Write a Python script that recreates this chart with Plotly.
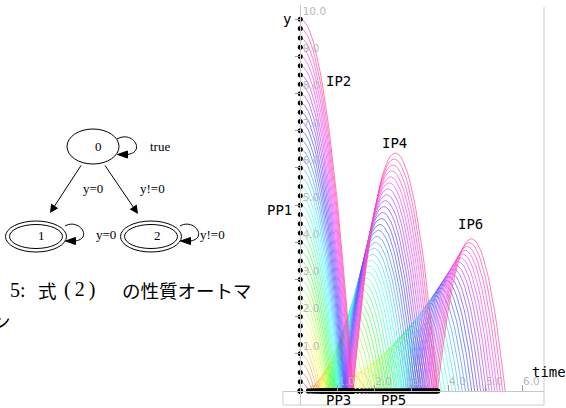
import numpy as np
import plotly.graph_objects as go

W, H = 566, 408

# ---------------- data ----------------
initial_heights = [0.0, 0.25, 0.5, 0.75, 1.0, 1.25, 1.5, 1.75, 2.0, 2.25,
                   2.5, 2.75, 3.0, 3.25, 3.5, 3.75, 4.0, 4.25, 4.5, 4.75,
                   5.0, 5.25, 5.5, 5.75, 6.0, 6.25, 6.5, 6.75, 7.0, 7.25,
                   7.5, 7.75, 8.0, 8.25, 8.5, 8.75, 9.0, 9.25, 9.5, 9.75, 10.0]
gravity = 9.8          # m/s^2
restitution = 0.8      # bounce coefficient
n_bounces = 2
x_ticks = [0, 1, 2, 3, 4, 5, 6]
y_ticks = [0, 1, 2, 3, 4, 5, 6, 7, 8, 9, 10]
phase_labels = ["PP1", "IP2", "PP3", "IP4", "PP5", "IP6"]
node_labels = ["0", "1", "2"]
edge_labels = ["true", "y=0", "y!=0", "y=0", "y!=0"]


def px(x):
    return x / W


def py(y):
    return (H - y) / H


def trajectory(h0):
    v0 = (2 * gravity * h0) ** 0.5
    T = v0 / gravity
    s = np.linspace(0, T, 30)
    ts = list(s)
    ys = list(h0 - 0.5 * gravity * s ** 2)
    start, v = T, v0
    for _ in range(n_bounces):
        v *= restitution
        dur = 2 * v / gravity
        s = np.linspace(0, dur, 40)
        ts += list(start + s)
        ys += list(v * s - 0.5 * gravity * s ** 2)
        start += dur
    return ts, ys


fig = go.Figure()

for h0 in initial_heights:
    if h0 <= 0:
        continue
    ts, ys = trajectory(h0)
    hue = 33.5 * h0
    fig.add_trace(go.Scatter(x=ts, y=ys, mode="lines",
                             line=dict(color=f"hsla({hue:.0f},100%,64%,0.7)", width=1),
                             hoverinfo="skip", cliponaxis=False))

first_land = [(2 * h / gravity) ** 0.5 for h in initial_heights]
second_land = [t * (1 + 2 * restitution) for t in first_land]

mk = dict(color="black", size=5)
fig.add_trace(go.Scatter(x=[0] * len(initial_heights), y=initial_heights, mode="markers",
                         marker=mk, cliponaxis=False, hoverinfo="skip"))
fig.add_trace(go.Scatter(x=first_land, y=[0] * len(first_land), mode="markers",
                         marker=dict(color="black", size=5.5), cliponaxis=False,
                         hoverinfo="skip"))
fig.add_trace(go.Scatter(x=second_land, y=[0] * len(second_land), mode="markers",
                         marker=dict(color="black", size=5.5), cliponaxis=False,
                         hoverinfo="skip"))

tickfont = dict(family="DejaVu Sans", size=10.5, color="#b8b8b8")
fig.update_layout(
    width=W, height=H, margin=dict(l=0, r=0, t=0, b=0),
    paper_bgcolor="white", plot_bgcolor="white", showlegend=False,
    xaxis=dict(domain=[283 / W, 544 / W], range=[-0.468, 6.595], anchor="free",
               position=17 / H, showline=True, linecolor="#c8c8c8", linewidth=1,
               ticks="inside", ticklen=6, tickcolor="#999999",
               tickvals=x_ticks, ticktext=[f"{v:.1f}" for v in x_ticks],
               ticklabelposition="inside right", tickfont=tickfont,
               showgrid=False, zeroline=False),
    yaxis=dict(domain=[3 / H, 403 / H], range=[-0.377, 10.385], anchor="free",
               position=300.3 / W, showline=True, linecolor="#c8c8c8", linewidth=1,
               ticks="outside", ticklen=5, tickcolor="#999999",
               tickvals=y_ticks, ticktext=[f"{v:.1f}" for v in y_ticks],
               ticklabelposition="inside top", tickfont=tickfont,
               showgrid=False, zeroline=False),
)

shapes = []
frame = dict(color="#cccccc", width=1)
shapes.append(dict(type="line", xref="paper", yref="paper", x0=px(283), x1=px(544),
                   y0=py(405), y1=py(405), line=frame))
shapes.append(dict(type="line", xref="paper", yref="paper", x0=px(544), x1=px(544),
                   y0=py(7), y1=py(405), line=frame))
shapes.append(dict(type="line", xref="paper", yref="paper", x0=px(283), x1=px(283),
                   y0=py(391), y1=py(405), line=frame))

annotations = []
mono = dict(family="DejaVu Sans Mono", size=14, color="black")
chart_texts = [("y", 287, 19), ("time", 549, 372), ("PP1", 279, 210),
               ("IP2", 338, 81), ("PP3", 338, 400), ("IP4", 394, 143),
               ("PP5", 393, 400), ("IP6", 470, 224)]
for t, x, y in chart_texts:
    annotations.append(dict(text=t, x=px(x), y=py(y), xref="paper", yref="paper",
                            showarrow=False, font=mono, xanchor="center", yanchor="middle"))

# ---------------- automaton diagram ----------------
blk = dict(color="black", width=1)


def ellipse(cx, cy, rx, ry):
    shapes.append(dict(type="circle", xref="paper", yref="paper",
                       x0=px(cx - rx), x1=px(cx + rx), y0=py(cy + ry), y1=py(cy - ry),
                       line=blk))


ellipse(93, 146.5, 26, 17.5)
for cx in (36, 151):
    ellipse(cx, 236.5, 30.5, 15.5)
    ellipse(cx, 236.5, 26.5, 12)


def loop(sx, sy, c1, c2, ex, ey, tip, half):
    p = (f"M {px(sx)},{py(sy)} C {px(c1[0])},{py(c1[1])} {px(c2[0])},{py(c2[1])} "
         f"{px(ex)},{py(ey)}")
    shapes.append(dict(type="path", xref="paper", yref="paper", path=p, line=blk))
    tx, ty = tip
    dx, dy = ex - tx, ey - ty
    L = (dx * dx + dy * dy) ** 0.5
    nx, ny = -dy / L * half, dx / L * half
    tri = (f"M {px(tx)},{py(ty)} L {px(ex + nx)},{py(ey + ny)} "
           f"L {px(ex - nx)},{py(ey - ny)} Z")
    shapes.append(dict(type="path", xref="paper", yref="paper", path=tri,
                       line=blk, fillcolor="black"))


loop(117, 139, (133, 130), (146, 152), 127.5, 154.5, (117.5, 154.5), 3.5)
loop(65, 226, (79, 218), (93, 238), 75.5, 241, (65.5, 241), 3.5)
loop(180, 226, (194, 218), (208, 238), 190.5, 241, (180.5, 241), 3.5)

for (tx, ty), (hx, hy) in [((82, 164), (50, 213)), ((104, 164), (138, 214))]:
    annotations.append(dict(text="", x=px(hx), y=py(hy), xref="paper", yref="paper",
                            ax=tx - hx, ay=ty - hy, showarrow=True, arrowhead=2,
                            arrowsize=1.7, arrowwidth=1, arrowcolor="black", standoff=0))

serif = dict(family="Liberation Serif", size=13, color="black")
node_pos = [(93, 146.5), (36, 236), (151.5, 236)]
for t, (x, y) in zip(node_labels, node_pos):
    annotations.append(dict(text=t, x=px(x), y=py(y), xref="paper", yref="paper",
                            showarrow=False, font=serif))
edge_pos = [(147.5, 146.5), (80.5, 188), (137.5, 188), (94, 234.5), (212, 234.5)]
for t, (x, y) in zip(edge_labels, edge_pos):
    annotations.append(dict(text=t, x=px(x), y=py(y), xref="paper", yref="paper",
                            showarrow=False, font=serif))

# caption
cap_serif = dict(family="Liberation Serif", size=20, color="black")
cap_cjk = dict(family="Noto Sans CJK JP", size=18.5, color="black")
caption = [("5:", 8, cap_serif), ("式", 36, cap_cjk), ("(\u20092\u2009)", 62, cap_serif),
           ("の性質オートマ", 120, cap_cjk)]
for t, x, f in caption:
    annotations.append(dict(text=t, x=px(x), y=py(290), xref="paper", yref="paper",
                            showarrow=False, font=f, xanchor="left", yanchor="middle"))
annotations.append(dict(text="ン", x=px(13), y=py(321), xref="paper", yref="paper",
                        showarrow=False, font=cap_cjk, xanchor="right", yanchor="middle"))

fig.update_layout(shapes=shapes, annotations=annotations)
fig.write_html("out.html", config={"displayModeBar": False},
               post_script="document.body.style.margin='0px';"
                           "document.body.style.overflow='hidden';")
